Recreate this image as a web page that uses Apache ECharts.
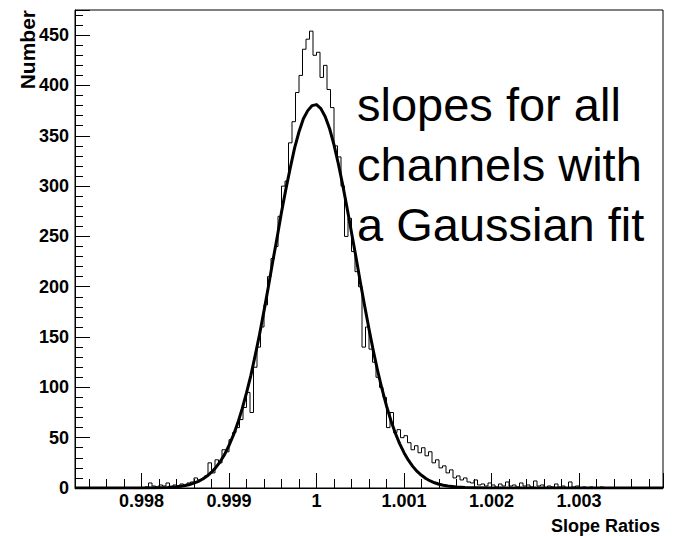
<!DOCTYPE html>
<html>
<head>
<meta charset="utf-8">
<script src="https://cdn.jsdelivr.net/npm/echarts@6/dist/echarts.min.js"></script>
<style>
html,body{margin:0;padding:0;background:#fff;}
#chart{width:673px;height:536px;}
</style>
</head>
<body>
<div id="chart"></div>
<script>
// ---- data ----
const xRange = [0.99724, 1.00396];
const yRange = [0, 475];
const binLow = 0.99724;
const binWidth = 0.00004;
const counts = [
  0,0,0,0,0,0,0,0,0,0,
  0,0,0,0,0,0,0,0,0,0,
  1,5,2,1,3,2,5,1,3,2,
  4,3,5,6,10,8,9,12,25,15,
  28,25,38,36,48,55,60,68,80,95,
  75,120,140,160,182,210,228,240,270,300,
  305,343,364,393,410,436,446,454,430,433,
  408,420,396,378,340,329,300,250,268,235,
  215,200,140,160,138,125,110,100,90,60,
  75,55,58,50,52,45,38,42,35,40,
  32,36,25,28,20,22,15,18,10,12,
  8,10,6,5,8,3,4,2,5,3,
  1,4,2,6,2,3,1,5,2,3,
  1,7,2,3,0,2,1,4,1,2,
  0,6,1,2,0,1,0,1,0,0,
  1,0,0,0,0,0,0,0,0,0,
  0,0,0,0,0,0,0,0
];
const fitX = [0.99724,0.9976,0.9980,0.9982,0.9983,0.99835,0.9984,0.99845,0.9985,0.99855,0.9986,0.99865,
  0.9987,0.99875,0.9988,0.99885,0.9989,0.99895,0.9990,0.99905,0.9991,0.99915,0.9992,0.99925,
  0.9993,0.99935,0.9994,0.99945,0.9995,0.99955,0.9996,0.99965,0.9997,0.99975,0.9998,0.99985,
  0.9999,0.99995,1.0000,1.00005,1.0001,1.00015,1.0002,1.00025,1.0003,1.00035,1.0004,1.00045,
  1.0005,1.00055,1.0006,1.00065,1.0007,1.00075,1.0008,1.00085,1.0009,1.00095,1.0010,1.00105,
  1.0011,1.00115,1.0012,1.00125,1.0013,1.00135,1.0014,1.00145,1.0015,1.0016,1.0017,1.0018,
  1.0020,1.0025,1.0030,1.0035,1.00396];
const fitY = [0,0,0,0.3,0.6,0.9,1.2,1.8,2.5,3.5,4.8,6.6,
  8.9,11.9,15.7,20.4,26.3,33.4,42.2,52.5,64.5,78.6,94.5,112,
  132,153,176,200,225,249,274,297,318,338,354,367,
  375,380,381,377,369,357,341,322,301,278,254,230,
  205,181,158,136,116,97.9,81.5,67.2,54.7,44.1,35.1,27.6,
  21.5,16.5,12.6,9.4,7.0,5.2,3.7,2.7,1.9,0.9,0.4,0.2,
  0,0,0,0,0];
const yTitle = 'Number';
const xTitle = 'Slope Ratios';
const noteLines = ['slopes for all', 'channels with', 'a Gaussian fit'];

// ---- build series data ----
const histData = counts.map((c, i) => [+(binLow + i * binWidth).toFixed(6), c]);
histData.push([+(binLow + counts.length * binWidth).toFixed(6), counts[counts.length - 1]]);
const fitData = fitX.map((x, i) => [x, fitY[i]]);

const FONT = '"Liberation Sans", Arial, Helvetica, sans-serif';
const chart = echarts.init(document.getElementById('chart'), null, {renderer: 'svg'});
chart.setOption({
  animation: false,
  backgroundColor: '#fff',
  grid: {left: 75, right: 10, top: 10, bottom: 48, show: true, borderColor: '#000', borderWidth: 1, backgroundColor: 'transparent'},
  xAxis: {
    type: 'value', min: xRange[0], max: xRange[1], splitNumber: 6,
    axisLine: {show: true, onZero: false, lineStyle: {color: '#000', width: 1}},
    axisTick: {show: true, inside: true, length: 15, lineStyle: {color: '#000', width: 1}},
    minorTick: {show: true, splitNumber: 5, length: 9, lineStyle: {color: '#000', width: 1}},
    axisLabel: {show: true, showMinLabel: false, showMaxLabel: false, margin: 4, color: '#000',
      fontFamily: FONT, fontWeight: 'bold', fontSize: 18},
    splitLine: {show: false}
  },
  yAxis: {
    type: 'value', min: yRange[0], max: yRange[1], interval: 50,
    axisLine: {show: true, onZero: false, lineStyle: {color: '#000', width: 1}},
    axisTick: {show: true, inside: true, length: 15, lineStyle: {color: '#000', width: 1}},
    minorTick: {show: true, splitNumber: 5, length: 8, lineStyle: {color: '#000', width: 1}},
    axisLabel: {show: true, showMaxLabel: false, margin: 6, color: '#000',
      fontFamily: FONT, fontWeight: 'bold', fontSize: 18},
    splitLine: {show: false}
  },
  series: [
    {
      type: 'line', name: 'hist', data: histData, step: 'end', showSymbol: false, symbol: 'none',
      lineStyle: {color: '#000', width: 1}, z: 2
    },
    {
      type: 'line', name: 'fit', data: fitData, smooth: false, showSymbol: false, symbol: 'none',
      lineStyle: {color: '#000', width: 3, join: 'round'}, z: 3
    }
  ],
  graphic: [
    {type: 'text', x: 27, y: 10, rotation: Math.PI / 2,
      style: {text: yTitle, fill: '#000', font: 'bold 21px ' + FONT, align: 'right', verticalAlign: 'middle'}},
    {type: 'text', x: 660, y: 526,
      style: {text: xTitle, fill: '#000', font: 'bold 18px ' + FONT, align: 'right', verticalAlign: 'middle'}},
    {type: 'text', x: 357, y: 74, z: 10,
      style: {text: noteLines.join('\n'), fill: '#000', font: '47px ' + FONT, lineHeight: 60, align: 'left', verticalAlign: 'top'}}
  ]
});
</script>
</body>
</html>
